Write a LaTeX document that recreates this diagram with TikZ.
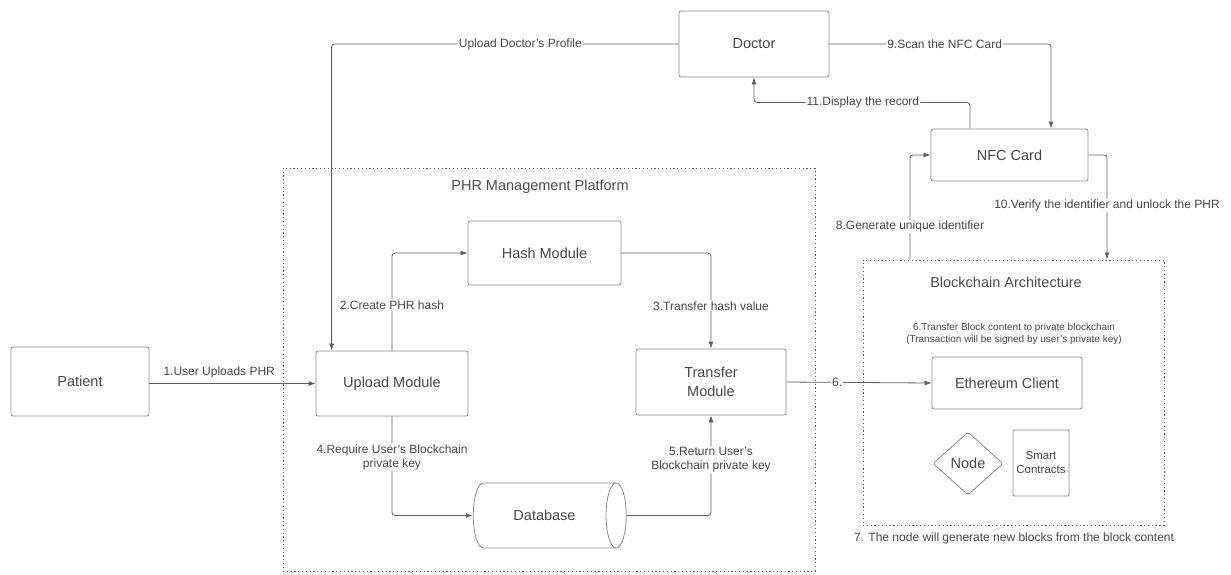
\documentclass[tikz,border=0pt]{standalone}
\usepackage{fontspec}
\setmainfont{Liberation Sans}
\usetikzlibrary{shapes.geometric,arrows.meta,calc}
\begin{document}
\begin{tikzpicture}[x=1pt,y=-1pt,
  box/.style={draw=black!45, rounded corners=2pt, text=black!72, font=\fontsize{14.5}{17}\selectfont, align=center, inner sep=0pt, line width=0.8pt},
  lbl/.style={fill=white, text=black!72, font=\fontsize{12}{14}\selectfont, inner sep=1pt, align=center},
  small/.style={text=black!72, font=\fontsize{10}{12}\selectfont, align=center},
  conn/.style={draw=black!62, line width=0.8pt, rounded corners=3pt, -{Latex[length=7pt,width=5pt]}},
  frame/.style={draw=black!65, line width=1pt, dash pattern=on 1.2pt off 2.6pt, inner sep=0pt},
  title/.style={text=black!70, font=\fontsize{14.5}{17}\selectfont},
]
\useasboundingbox (0,0) rectangle (1231,574);
\fill[white] (0,0) rectangle (1231,574);

% frames
\node[frame, minimum width=532, minimum height=403] (phr) at (549,369.5) {};
\node[title] (phrt) at (540,187) {PHR Management Platform};
\node[frame, minimum width=301, minimum height=265] (bc) at (1013.5,392.5) {};
\node[title] (bct) at (1006,282) {Blockchain Architecture};

% nodes
\node[box, minimum width=138, minimum height=69] (patient) at (80,381.5) {Patient};
\node[box, minimum width=152, minimum height=65] (upload) at (392,383.5) {Upload Module};
\node[box, minimum width=153, minimum height=64] (hash) at (544.5,253) {Hash Module};
\node[box, minimum width=150, minimum height=66] (transfer) at (711,382) {Transfer\\[2pt]Module};
\node[draw=black!45, line width=0.8pt, cylinder, aspect=1.9, minimum width=65, minimum height=153, text=black!72, font=\fontsize{14.5}{17}\selectfont, inner sep=0pt] (db) at (544.5,515.5) {Database};
\node[box, minimum width=150, minimum height=66] (doctor) at (754,44) {Doctor};
\node[box, minimum width=157, minimum height=52] (nfc) at (1009.5,155) {NFC Card};
\node[box, minimum width=150, minimum height=52] (eth) at (1007,383) {Ethereum Client};
\node[draw=black!45, line width=0.8pt, diamond, rounded corners=2pt, minimum width=70, minimum height=63, inner sep=0pt, text=black!72, font=\fontsize{14.5}{17}\selectfont] (dnode) at (968,463.5) {Node};
\node[box, rounded corners=1pt, minimum width=56, minimum height=66, font=\fontsize{11.5}{14}\selectfont] (smart) at (1041,463) {Smart\\Contracts};

\node[small] (t6) at (1014,334) {6.Transfer Block content to private blockchain\\(Transaction will be signed by user's private key)};
\node[text=black!72, font=\fontsize{12}{14}\selectfont] (t7) at (1014,538) {7. The node will generate new blocks from the block content};

% helper coordinates
\coordinate (v8) at (910,0);
\coordinate (v10) at (1107,0);

% connectors
\draw[conn] (patient.east |- upload.west) -- node[pos=0.42, above=2pt, text=black!72, font=\fontsize{12}{14}\selectfont] {1.User Uploads PHR} (upload.west);
\draw[conn] (upload.north) |- node[lbl, pos=0.235] {2.Create PHR hash} (hash.west);
\draw[conn] (hash.east) -| node[lbl, pos=0.776] {3.Transfer hash value} (transfer.north);
\draw[conn] (upload.south) |- node[lbl, pos=0.205] {4.Require User's Blockchain\\private key} (db.west);
\draw[conn] (db.east) -| node[lbl, pos=0.777] {5.Return User's\\Blockchain private key} (transfer.south);
\draw[conn] (transfer.east) -- node[lbl, pos=0.35] {6.} (eth.west);
\draw[conn] (doctor.west) -| node[lbl, pos=0.228] {Upload Doctor's Profile} ([xshift=16pt]upload.north west);
\draw[conn] (doctor.east) -| node[lbl, pos=0.26] {9.Scan the NFC Card} ([xshift=41.5pt]nfc.north);
\draw[conn] ([xshift=-39.5pt]nfc.north) |- node[lbl, pos=0.748] {11.Display the record} ($(doctor.south)+(0,25)$) -- (doctor.south);
\draw[conn] (bc.north -| v8) |- node[lbl, pos=0.157] {8.Generate unique identifier} (nfc.west);
\draw[conn] (nfc.east) -| node[lbl, pos=0.743] {10.Verify the identifier and unlock the PHR} (bc.north -| v10);
\end{tikzpicture}
\end{document}
